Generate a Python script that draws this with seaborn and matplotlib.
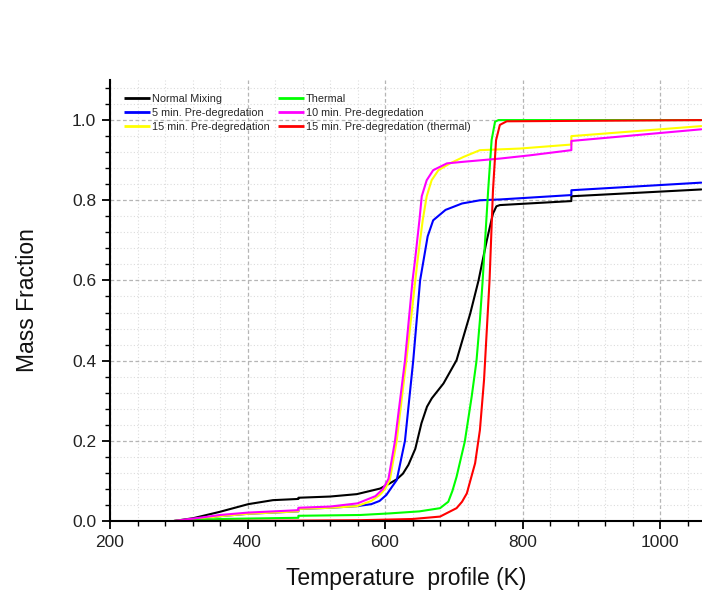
import numpy as np
import pandas as pd
import matplotlib
matplotlib.use("Agg")
import matplotlib.pyplot as plt
import seaborn as sns
from matplotlib.ticker import MultipleLocator, FormatStrFormatter

# ---- data ----
normal_T = [293, 321, 360, 401, 437, 474, 474, 520, 559, 593, 607, 617, 626, 634, 644, 653, 661,
            668, 685, 704, 724, 736, 748, 757, 762, 767, 871, 871, 1060]
normal_M = [0.0, 0.007, 0.023, 0.042, 0.052, 0.055, 0.058, 0.061, 0.067, 0.081, 0.094, 0.104,
            0.118, 0.140, 0.180, 0.244, 0.285, 0.306, 0.343, 0.401, 0.518, 0.600, 0.700, 0.767,
            0.785, 0.788, 0.798, 0.810, 0.827]

min5_T = [293, 330, 360, 401, 474, 474, 520, 559, 580, 592, 602, 610, 617, 629, 641, 651, 656,
          662, 670, 688, 712, 738, 767, 871, 871, 1060]
min5_M = [0.0, 0.006, 0.012, 0.018, 0.024, 0.030, 0.033, 0.037, 0.042, 0.050, 0.065, 0.085, 0.102,
          0.200, 0.400, 0.600, 0.650, 0.710, 0.750, 0.776, 0.792, 0.800, 0.802, 0.813, 0.825, 0.844]

min10_T = [293, 330, 360, 401, 474, 474, 520, 560, 586, 597, 605, 614.5, 629, 640, 643.6, 650,
           653.4, 660.6, 670, 690, 714, 767, 810, 871, 871, 1060]
min10_M = [0.0, 0.008, 0.015, 0.021, 0.027, 0.033, 0.036, 0.044, 0.062, 0.080, 0.105, 0.200,
           0.400, 0.600, 0.650, 0.750, 0.810, 0.850, 0.875, 0.892, 0.896, 0.904, 0.912, 0.925,
           0.948, 0.977]

min15_T = [293, 330, 360, 401, 474, 474, 520, 559, 580, 593, 600, 607, 617, 631, 644, 647.3,
           654.8, 660.6, 667.8, 677.6, 694.5, 714, 738, 767, 796, 871, 871, 1060]
min15_M = [0.0, 0.006, 0.012, 0.018, 0.024, 0.030, 0.033, 0.037, 0.050, 0.066, 0.080, 0.102,
           0.200, 0.400, 0.600, 0.650, 0.750, 0.810, 0.850, 0.875, 0.892, 0.908, 0.925, 0.927,
           0.929, 0.939, 0.960, 0.985]

thermal_T = [293, 360, 474, 474, 564, 607, 650, 680, 692, 698, 704, 716, 726, 733, 738, 742, 750,
             755, 760, 765, 1060]
thermal_M = [0.0, 0.005, 0.008, 0.013, 0.015, 0.019, 0.024, 0.032, 0.048, 0.075, 0.110, 0.198,
             0.310, 0.399, 0.501, 0.600, 0.825, 0.950, 0.996, 1.0, 1.0]

min15th_T = [293, 474, 564, 640, 680, 704, 712, 719, 731, 738, 744, 748, 752, 757, 761.5, 767,
             777, 1060]
min15th_M = [0.0, 0.001, 0.002, 0.005, 0.011, 0.032, 0.048, 0.069, 0.144, 0.227, 0.352, 0.476,
             0.600, 0.825, 0.950, 0.988, 0.997, 1.0]

series = [
    ("Normal Mixing", normal_T, normal_M, "#000000"),
    ("5 min. Pre-degredation", min5_T, min5_M, "#0000FF"),
    ("15 min. Pre-degredation", min15_T, min15_M, "#FFFF00"),
    ("Thermal", thermal_T, thermal_M, "#00FF00"),
    ("10 min. Pre-degredation", min10_T, min10_M, "#FF00FF"),
    ("15 min. Pre-degredation (thermal)", min15th_T, min15th_M, "#FF0000"),
]

frames = []
for name, T, M, _ in series:
    frames.append(pd.DataFrame({"T": T, "M": M, "series": name}))
df = pd.concat(frames, ignore_index=True)
palette = {name: c for name, _, _, c in series}
order = [s[0] for s in series]

sns.set_style("white")
plt.rcParams["font.family"] = ["Liberation Sans", "DejaVu Sans"]

fig = plt.figure(figsize=(7.02, 5.95), dpi=100)
ax = fig.add_axes([110 / 702, 74 / 595, (702 - 110) / 702, (521 - 80) / 595])

sns.lineplot(data=df, x="T", y="M", hue="series", hue_order=order, palette=palette,
             estimator=None, sort=False, units="series", linewidth=1.5, ax=ax)

ax.set_xlim(200, 1061)
ax.set_ylim(0, 1.1)
ax.xaxis.set_major_locator(MultipleLocator(200))
ax.xaxis.set_minor_locator(MultipleLocator(40))
ax.yaxis.set_major_locator(MultipleLocator(0.2))
ax.yaxis.set_minor_locator(MultipleLocator(0.04))
ax.yaxis.set_major_formatter(FormatStrFormatter("%.1f"))

ax.grid(which="major", color="#b5b5b5", linestyle=(0, (3, 2)), linewidth=0.9)
ax.grid(which="minor", color="#dcdcdc", linestyle=(0, (1, 2)), linewidth=0.8)
ax.set_axisbelow(True)

for side in ["top", "right"]:
    ax.spines[side].set_visible(False)
for side in ["left", "bottom"]:
    ax.spines[side].set_color("#000000")
    ax.spines[side].set_linewidth(1.5)

ax.tick_params(which="major", direction="out", length=6, width=1.3, colors="#000000",
               labelsize=12.5, pad=4, left=True, bottom=True)
ax.tick_params(which="minor", direction="out", length=3.5, width=1.0, colors="#000000",
               left=True, bottom=True)
for lab in ax.get_xticklabels() + ax.get_yticklabels():
    lab.set_color("#222222")

ax.set_xlabel("Temperature  profile (K)", fontsize=16.5, color="#111111", labelpad=12)
ax.set_ylabel("Mass Fraction", fontsize=16.5, color="#111111", labelpad=24)

handles, labels = ax.get_legend_handles_labels()
leg = ax.legend(handles, labels, ncol=2, loc="upper left", bbox_to_anchor=(0.01, 0.985),
                frameon=False, fontsize=7.8, handlelength=2.4, handletextpad=0.2,
                labelspacing=0.36, columnspacing=0.75, borderaxespad=0.3)
for line in leg.get_lines():
    line.set_linewidth(2)
    line.set_solid_capstyle("butt")

fig.savefig("out.png", dpi=100)
